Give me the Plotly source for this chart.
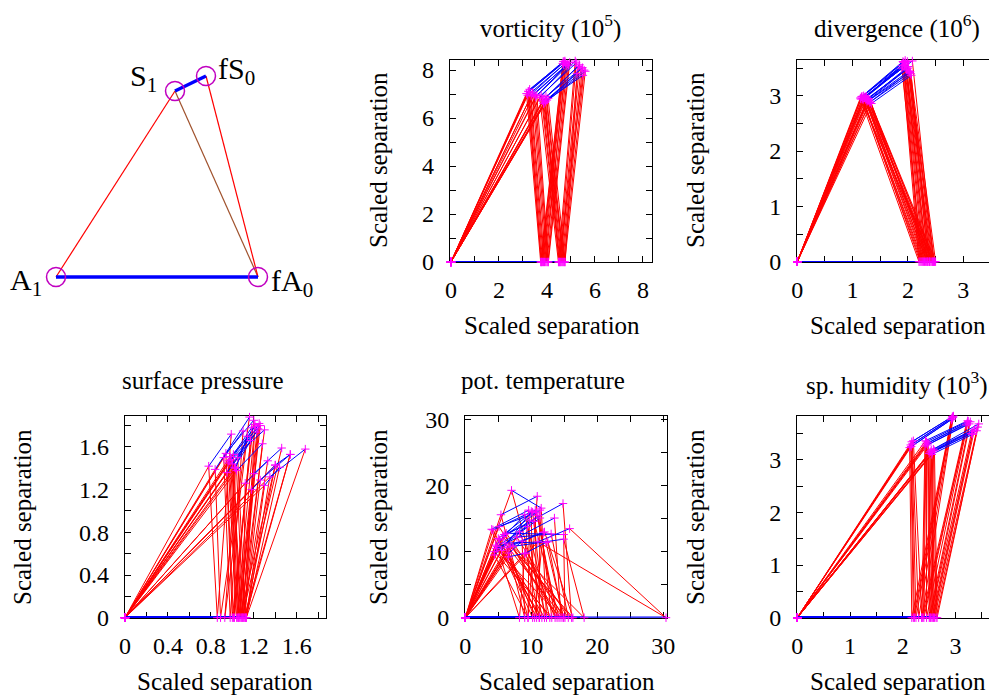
import plotly.graph_objects as go

W, H = 997, 698          # browser window
OFF = 8                  # default page margin around the plot div
FW, FH = W - OFF, H - OFF
FONT = "'Liberation Serif', 'Times New Roman', Times, serif"


def fx(px):
    return (px - OFF) / FW


def fy(py):
    return 1 - (py - OFF) / FH


# ---------------- data ----------------
# schematic diagram: node positions (diagram units) and labels
diag_labels = ["A<sub>1</sub>", "fA<sub>0</sub>", "S<sub>1</sub>", "fS<sub>0</sub>"]
diag_x = [56, 258, 175, 206]
diag_y = [277, 277, 91, 76]

# vorticity (10^5)
vort_fa0 = [3.74, 3.78, 3.82, 3.86, 3.90, 3.95, 4.00, 4.04, 4.06, 3.76, 4.48, 4.52, 4.55, 4.58, 4.62, 4.66, 4.70, 4.74, 4.76, 4.50]
vort_s1x = [3.15, 3.20, 3.24, 3.28, 3.34, 3.40, 3.46, 3.52, 3.58, 3.22, 3.70, 3.76, 3.82, 3.88, 3.92, 3.96, 4.00, 3.86, 4.05, 3.94]
vort_s1y = [7.02, 6.95, 7.10, 7.20, 6.92, 7.05, 6.98, 6.88, 6.95, 7.12, 6.85, 6.95, 6.72, 6.80, 6.65, 6.90, 6.75, 6.60, 6.82, 6.70]
vort_fs0x = [4.66, 4.70, 4.72, 4.75, 4.80, 4.78, 4.85, 4.90, 4.95, 4.68, 5.18, 5.22, 5.30, 5.36, 5.42, 5.48, 5.55, 5.60, 5.25, 5.50]
vort_fs0y = [8.28, 8.22, 8.35, 8.38, 8.18, 8.30, 8.25, 8.20, 8.32, 8.36, 8.38, 8.30, 8.15, 8.22, 8.05, 8.10, 8.00, 7.95, 7.85, 7.78]

# divergence (10^6)
div_fa0 = [2.20, 2.24, 2.28, 2.32, 2.35, 2.38, 2.40, 2.42, 2.45, 2.47, 2.50, 2.36, 2.22, 2.30, 2.44, 2.48, 2.26, 2.34, 2.39, 2.46]
div_s1x = [1.14, 1.16, 1.18, 1.20, 1.22, 1.24, 1.25, 1.27, 1.28, 1.30, 1.32, 1.34, 1.17, 1.21, 1.26, 1.29, 1.19, 1.23, 1.31, 1.15]
div_s1y = [2.96, 2.98, 2.95, 3.00, 2.97, 2.93, 2.99, 2.94, 2.91, 2.92, 2.89, 2.86, 2.99, 2.96, 2.90, 2.95, 2.93, 2.98, 2.88, 2.94]
div_fs0x = [1.90, 1.92, 1.93, 1.95, 1.96, 1.98, 1.99, 2.00, 2.02, 2.03, 2.05, 2.06, 1.91, 1.94, 1.97, 2.01, 1.89, 1.95, 2.04, 2.08]
div_fs0y = [3.55, 3.60, 3.52, 3.64, 3.58, 3.48, 3.62, 3.50, 3.45, 3.42, 3.40, 3.37, 3.62, 3.56, 3.47, 3.53, 3.50, 3.60, 3.44, 3.63]

# surface pressure
sp_fa0 = [0.86, 0.89, 1.00, 1.04, 1.06, 1.08, 1.10, 1.12, 1.02, 0.93, 1.05, 1.09, 1.11, 1.13, 1.07, 1.12, 0.98, 1.09, 1.01, 1.10, 1.06, 1.13]
sp_s1x = [0.78, 0.84, 0.94, 0.96, 0.98, 0.99, 1.04, 1.05, 1.01, 1.03, 0.97, 1.20, 1.26, 1.35, 1.18, 1.40, 0.92, 1.00, 0.95, 1.12, 1.02, 1.30]
sp_s1y = [1.42, 1.39, 1.54, 1.45, 1.51, 1.48, 1.38, 1.50, 1.53, 1.40, 1.47, 1.35, 1.29, 1.32, 1.20, 1.43, 1.50, 1.44, 1.36, 1.26, 1.41, 1.24]
sp_fs0x = [0.99, 1.16, 1.20, 1.21, 1.26, 1.30, 1.28, 1.21, 1.18, 1.14, 1.23, 1.46, 1.54, 1.68, 1.40, 1.54, 1.10, 1.25, 1.17, 1.33, 1.24, 1.44]
sp_fs0y = [1.72, 1.88, 1.85, 1.79, 1.80, 1.76, 1.63, 1.81, 1.78, 1.70, 1.74, 1.59, 1.53, 1.58, 1.43, 1.53, 1.75, 1.82, 1.66, 1.47, 1.77, 1.41]

# pot. temperature
pt_fa0 = [12.3, 9.5, 8.2, 10.8, 11.2, 16.1, 13.1, 14.5, 30.4, 15.1, 14.8, 11.2, 18.0, 9.5, 12.0, 13.6, 16.3, 10.2, 12.8, 14.2, 10.5, 15.6, 13.9, 11.6, 9.0, 14.9]
pt_s1x = [7.0, 5.4, 4.0, 4.2, 5.2, 5.7, 4.4, 4.7, 11.0, 6.2, 6.0, 6.5, 7.2, 4.4, 5.0, 8.2, 6.8, 5.5, 4.6, 5.9, 6.3, 7.8, 5.1, 4.8, 6.6, 9.0]
pt_s1y = [19.3, 15.6, 13.4, 13.3, 11.8, 12.3, 10.0, 10.5, 11.5, 12.8, 11.3, 9.2, 10.8, 9.5, 12.0, 13.0, 11.0, 10.2, 11.0, 12.6, 10.6, 12.2, 13.8, 10.8, 9.8, 9.7]
pt_fs0x = [11.5, 10.9, 9.6, 10.6, 11.3, 14.8, 11.3, 13.5, 15.8, 14.9, 12.5, 9.2, 14.9, 9.7, 10.2, 11.0, 12.0, 10.0, 9.0, 10.4, 11.8, 13.0, 10.8, 9.4, 8.6, 12.2]
pt_fs0y = [16.6, 18.4, 16.3, 16.3, 16.3, 17.3, 15.1, 15.1, 13.5, 12.6, 11.5, 9.8, 11.9, 14.8, 16.0, 15.5, 13.0, 16.1, 15.6, 14.6, 12.9, 12.7, 15.9, 13.8, 11.6, 11.4]

# sp. humidity (10^3)
hum_fa0 = [2.17, 2.20, 2.25, 2.30, 2.36, 2.22, 2.36, 2.40, 2.45, 2.50, 2.52, 2.38, 2.52, 2.55, 2.58, 2.60, 2.63, 2.65, 2.57]
hum_s1x = [2.13, 2.15, 2.17, 2.18, 2.20, 2.16, 2.42, 2.44, 2.45, 2.47, 2.48, 2.43, 2.50, 2.52, 2.54, 2.56, 2.58, 2.60, 2.55]
hum_s1y = [3.23, 3.28, 3.34, 3.30, 3.36, 3.25, 3.26, 3.30, 3.34, 3.28, 3.32, 3.36, 3.12, 3.15, 3.18, 3.14, 3.20, 3.17, 3.10]
hum_fs0x = [2.92, 2.93, 2.94, 2.95, 2.96, 2.93, 3.20, 3.22, 3.24, 3.26, 3.28, 3.23, 3.30, 3.33, 3.36, 3.40, 3.44, 3.42, 3.32]
hum_fs0y = [3.76, 3.79, 3.82, 3.80, 3.83, 3.77, 3.66, 3.70, 3.73, 3.68, 3.72, 3.74, 3.50, 3.54, 3.58, 3.55, 3.68, 3.62, 3.48]

# ---------------- layout geometry (reference pixels) ----------------
panels = [
    dict(title="vorticity (10<sup>5</sup>)", data=(vort_fa0, vort_s1x, vort_s1y, vort_fs0x, vort_fs0y),
         px=(450, 652), py=(60, 262), xr=[-0.04, 8.38], yr=[0, 8.42], dt=2, mn=1, bw=1.2,
         tpos=(550, 27), xt=(552, 325), yt=(378, 160)),
    dict(title="divergence (10<sup>6</sup>)", data=(div_fa0, div_s1x, div_s1y, div_fs0x, div_fs0y),
         px=(797.3, 996.7), py=(60, 261.7), xr=[0, 3.605], yr=[0, 3.647], dt=1, mn=0.5, bw=1.2,
         tpos=(897, 27), xt=(898, 325), yt=(695, 160)),
    dict(title="surface pressure", data=(sp_fa0, sp_s1x, sp_s1y, sp_fs0x, sp_fs0y),
         px=(125, 325.7), py=(416, 617.7), xr=[0, 1.87], yr=[0, 1.89], dt=0.4, mn=0.2, bw=2.6,
         tpos=(203, 380), xt=(225, 681), yt=(22, 517)),
    dict(title="pot. temperature", data=(pt_fa0, pt_s1x, pt_s1y, pt_fs0x, pt_fs0y),
         px=(465.3, 667), py=(416, 617.7), xr=[0, 30.55], yr=[0, 30.56], dt=10, mn=5, bw=2.6,
         tpos=(543, 380), xt=(567, 681), yt=(378, 517)),
    dict(title="sp. humidity (10<sup>3</sup>)", data=(hum_fa0, hum_s1x, hum_s1y, hum_fs0x, hum_fs0y),
         px=(797.3, 996.7), py=(416, 617.7), xr=[0, 3.78], yr=[0, 3.83], dt=1, mn=0.5, bw=2.6,
         tpos=(897, 383), xt=(898, 681), yt=(695, 517)),
]

fig = go.Figure()
layout = dict(template="none", width=FW, height=FH,
              margin=dict(l=0, r=0, t=0, b=0, pad=0, autoexpand=False),
              paper_bgcolor="white", plot_bgcolor="white", showlegend=False,
              font=dict(family=FONT, color="black"))
annotations = []

# ---- diagram (axis 1) ----
layout["xaxis"] = dict(domain=[0, fx(330)], range=[OFF, 330], visible=False, anchor="y", automargin=False)
layout["yaxis"] = dict(domain=[fy(330), 1], range=[330, OFF], visible=False, anchor="x", automargin=False)
A1, FA0, S1, FS0 = 0, 1, 2, 3
edges = [((A1, S1), "#ff0000", 1.2), ((S1, FA0), "#a0522d", 1.2), ((FS0, FA0), "#ff0000", 1.2),
         ((A1, FA0), "#0000ff", 3.5), ((S1, FS0), "#0000ff", 3.5)]
for (i, j), col, wd in edges:
    fig.add_trace(go.Scatter(x=[diag_x[i], diag_x[j]], y=[diag_y[i], diag_y[j]], mode="lines",
                             line=dict(color=col, width=wd), xaxis="x", yaxis="y", hoverinfo="skip"))
fig.add_trace(go.Scatter(x=diag_x, y=diag_y, mode="markers", xaxis="x", yaxis="y",
                         marker=dict(symbol="circle-open", size=19, color="#c000c0", line=dict(width=1.5)),
                         hoverinfo="skip"))
lab_pos = [(26, 282), (292, 283), (143, 78), (236, 71)]
for txt, (lx, ly) in zip(diag_labels, lab_pos):
    annotations.append(dict(text=txt, x=lx, y=ly, xref="x", yref="y", showarrow=False,
                            font=dict(size=30, family=FONT, color="black"),
                            xanchor="center", yanchor="middle"))

# ---- data panels ----
for k, p in enumerate(panels, start=2):
    xa, ya = f"x{k}", f"y{k}"
    fa0, s1x, s1y, fs0x, fs0y = p["data"]
    rx, ry, bx, by, gx, gy, mx, my = [], [], [], [], [], [], [], []
    for a, sx, sy, tx, ty in zip(fa0, s1x, s1y, fs0x, fs0y):
        rx += [0, sx, a, None, tx, a, None]
        ry += [0, sy, 0, None, ty, 0, None]
        bx += [sx, tx, None]
        by += [sy, ty, None]
        gx += [0, a, None]
        gy += [0, 0, None]
        mx += [0, a, sx, tx]
        my += [0, 0, sy, ty]
    fig.add_trace(go.Scatter(x=rx, y=ry, mode="lines", line=dict(color="#ff0000", width=1),
                             xaxis=xa, yaxis=ya, hoverinfo="skip"))
    fig.add_trace(go.Scatter(x=bx, y=by, mode="lines", line=dict(color="#0000ff", width=1),
                             xaxis=xa, yaxis=ya, hoverinfo="skip", cliponaxis=False))
    fig.add_trace(go.Scatter(x=gx, y=gy, mode="lines", line=dict(color="#0000ff", width=p["bw"]),
                             xaxis=xa, yaxis=ya, hoverinfo="skip", cliponaxis=False))
    fig.add_trace(go.Scatter(x=mx, y=my, mode="markers", xaxis=xa, yaxis=ya, hoverinfo="skip",
                             cliponaxis=False,
                             marker=dict(symbol="cross-thin", size=6, color="#ff00ff",
                                         line=dict(color="#ff00ff", width=1))))
    common = dict(ticks="inside", ticklen=6, tickwidth=1, tickcolor="black",
                  tickmode="linear", tick0=0, dtick=p["dt"],
                  minor=dict(ticks="inside", ticklen=6, tickwidth=1, tickcolor="black",
                             dtick=p["mn"], tick0=0, showgrid=False),
                  showline=True, linecolor="black", linewidth=1.3, mirror="ticks",
                  showgrid=False, zeroline=False, layer="below traces", automargin=False,
                  tickfont=dict(family=FONT, size=24, color="black"))
    layout[f"xaxis{k}"] = dict(domain=[fx(p["px"][0]), min(1, fx(p["px"][1]))], range=p["xr"],
                               anchor=ya, ticklabelstandoff=6, **common)
    layout[f"yaxis{k}"] = dict(domain=[fy(p["py"][1]), fy(p["py"][0])], range=p["yr"],
                               anchor=xa, ticklabelstandoff=10, **common)
    annotations.append(dict(text=p["title"], x=fx(p["tpos"][0]), y=fy(p["tpos"][1]),
                            xref="paper", yref="paper", showarrow=False,
                            font=dict(size=25, family=FONT, color="black"),
                            xanchor="center", yanchor="middle"))
    annotations.append(dict(text="Scaled separation", x=fx(p["xt"][0]), y=fy(p["xt"][1]),
                            xref="paper", yref="paper", showarrow=False,
                            font=dict(size=25, family=FONT, color="black"),
                            xanchor="center", yanchor="middle"))
    annotations.append(dict(text="Scaled separation", x=fx(p["yt"][0]), y=fy(p["yt"][1]),
                            xref="paper", yref="paper", showarrow=False, textangle=-90,
                            font=dict(size=25, family=FONT, color="black"),
                            xanchor="center", yanchor="middle"))

layout["annotations"] = annotations
fig.update_layout(**layout)
fig.write_html("out.html")
